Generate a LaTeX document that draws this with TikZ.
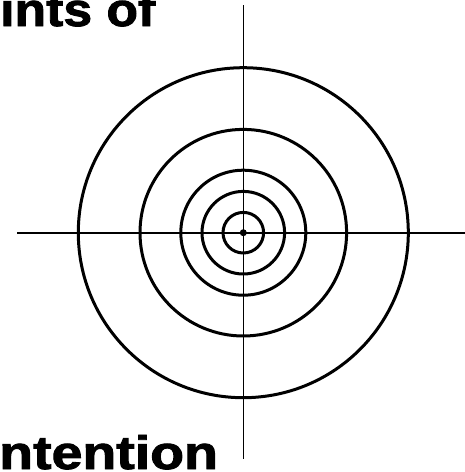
\documentclass[tikz,border=0pt]{standalone}
\usepackage{fontspec}
\setmainfont{Liberation Sans}
\newfontfamily\heavy[FakeBold=1.8]{Liberation Sans Bold}
\begin{document}
\begin{tikzpicture}[x=1pt,y=-1pt,
  ring/.style={draw=black,line width=3pt},
  axis/.style={draw=black,line width=2pt},
  title/.style={inner sep=0pt,font=\fontsize{47}{47}\selectfont\heavy,anchor=base west}]
\useasboundingbox (0,0) rectangle (465,472);
\coordinate (c) at (243.3,232.7);
\coordinate (l) at (17,232.7);
\coordinate (r) at (466,232.7);
\coordinate (t) at (243.3,5);
\coordinate (b) at (243.3,459);
\draw[axis] (l) -- (r);
\draw[axis,line width=1.6pt] (t) -- (b);
\foreach \rr in {20.3,41.3,62.5,103.3,165}
  \draw[ring] (c) circle[radius=\rr];
\fill (c) circle[radius=3.5];
\node[title,xscale=1.1] (top) at (0,26) {ints of};
\node[title,xscale=1.18] (bot) at (-1,469) {ntention};
\end{tikzpicture}
\end{document}
